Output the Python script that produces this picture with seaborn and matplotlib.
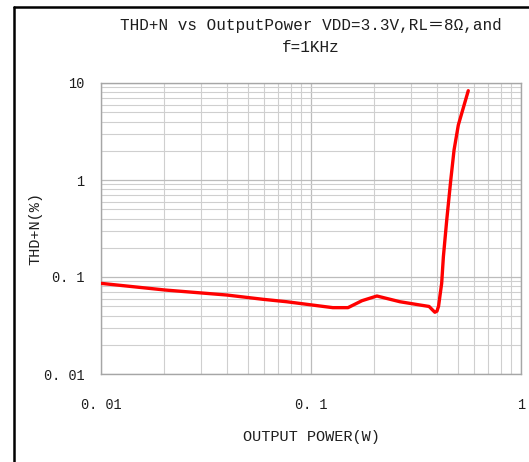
import numpy as np
import pandas as pd
import matplotlib
matplotlib.use("Agg")
import matplotlib.pyplot as plt
import matplotlib.ticker as mticker
from matplotlib.lines import Line2D
import seaborn as sns

# THD+N versus output power, VDD=3.3V, RL=8 ohm, f=1kHz
power_w = [0.010, 0.0202, 0.0397, 0.059, 0.0765, 0.127, 0.150, 0.175, 0.206,
           0.265, 0.331, 0.365, 0.380, 0.389, 0.398, 0.405, 0.412, 0.419,
           0.427, 0.443, 0.463, 0.480, 0.503, 0.561]
thdn_pct = [0.086, 0.0734, 0.0652, 0.0589, 0.0556, 0.0483, 0.0483, 0.057, 0.0637,
            0.0556, 0.0514, 0.0497, 0.0455, 0.0433, 0.0445, 0.050, 0.066, 0.086,
            0.162, 0.387, 1.0, 2.04, 3.69, 8.33]

x_ticks = [0.01, 0.1, 1]
x_tick_labels = ["0. 01", "0. 1", "1"]
y_ticks = [0.01, 0.1, 1, 10]
y_tick_labels = ["0. 01", "0. 1", "1", "10"]

title = "THD+N vs OutputPower VDD=3.3V,RL＝8Ω,and\nf=1KHz"
x_label = "OUTPUT POWER(W)"
y_label = "THD+N(%)"

sns.set_theme(style="white")
plt.rcParams["font.family"] = ["Liberation Mono", "Noto Sans CJK SC", "DejaVu Sans"]
text_color = "#1e1e1e"

W, H = 529, 462
fig = plt.figure(figsize=(W / 100, H / 100), dpi=100)
fig.patch.set_facecolor("white")
ax = fig.add_axes([101 / W, 1 - 374 / H, 420 / W, 291 / H])

df = pd.DataFrame({"power": power_w, "thdn": thdn_pct})
sns.lineplot(data=df, x="power", y="thdn", ax=ax, color="#ff0000",
             linewidth=2.4, estimator=None, sort=False, zorder=5)

ax.set_xscale("log")
ax.set_yscale("log")
ax.set_xlim(0.01, 1)
ax.set_ylim(0.01, 10)

ax.set_xticks(x_ticks)
ax.set_xticklabels(x_tick_labels)
ax.set_yticks(y_ticks)
ax.set_yticklabels(y_tick_labels)
for axis in (ax.xaxis, ax.yaxis):
    axis.set_minor_locator(mticker.LogLocator(base=10, subs=np.arange(2, 10)))
    axis.set_minor_formatter(mticker.NullFormatter())

ax.grid(which="major", color="#bcbcbc", linewidth=0.9)
ax.grid(which="minor", color="#cfcfcf", linewidth=0.8)
ax.set_axisbelow(True)

ax.tick_params(axis="x", which="major", length=0, pad=17, labelsize=9.8,
               labelcolor=text_color)
ax.tick_params(axis="y", which="major", length=0, pad=12, labelsize=9.8,
               labelcolor=text_color)
ax.tick_params(which="minor", length=0)

for sp in ax.spines.values():
    sp.set_color("#a6a6a6")
    sp.set_linewidth(1.0)

ax.set_xlabel(x_label, fontsize=11, color=text_color, labelpad=13)
ax.set_ylabel(y_label, fontsize=11, color=text_color)
ax.yaxis.set_label_coords(-0.140, 0.5)
ax.set_title(title, fontsize=11.5, color=text_color, pad=22, linespacing=1.65)

# page frame lines along the top and left edges
fig.add_artist(Line2D([13.5 / W, 13.5 / W], [0, 1 - 6.5 / H],
                      transform=fig.transFigure, color="black", linewidth=1.8))
fig.add_artist(Line2D([13.5 / W, 1], [1 - 6.5 / H, 1 - 6.5 / H],
                      transform=fig.transFigure, color="black", linewidth=1.8))

fig.savefig("out.png", dpi=100, facecolor="white")
